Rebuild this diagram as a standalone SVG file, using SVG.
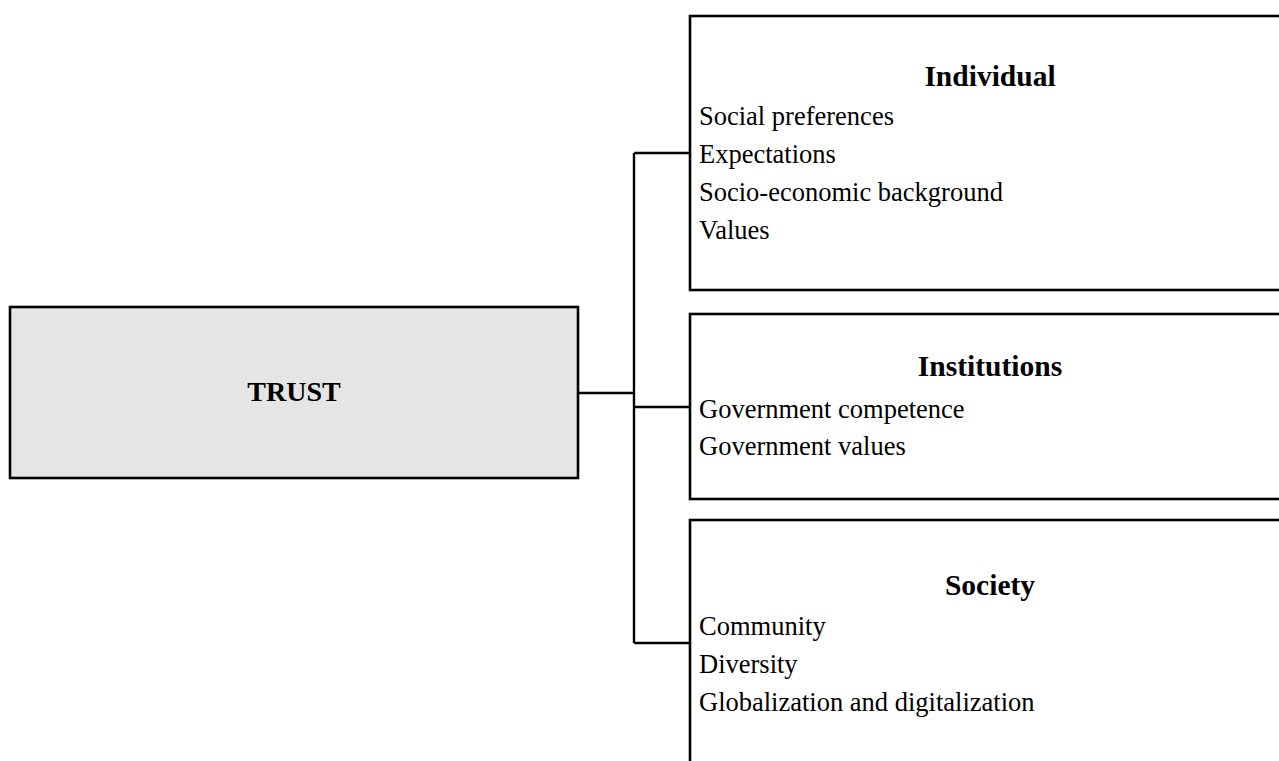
<svg xmlns="http://www.w3.org/2000/svg" width="1279" height="761" viewBox="0 0 1279 761">
<style>
.box{fill:#ffffff;stroke:#000;stroke-width:2.6}
.main{fill:#e5e5e5;stroke:#000;stroke-width:2.6}
.conn{fill:none;stroke:#000;stroke-width:2.4}
.h{font-family:"Liberation Serif","Times New Roman",serif;font-weight:bold;font-size:29.5px;text-anchor:middle;fill:#000}
.t{font-family:"Liberation Serif","Times New Roman",serif;font-size:26.5px;fill:#000}
</style>
<rect width="1279" height="761" fill="#fff"/>
<g id="connectors">
<path class="conn" d="M578 393 H634 M634 153 V643 M634 153 H690 M634 407 H690 M634 643 H690"/>
</g>
<g id="trust">
<rect class="main" x="10" y="307" width="568" height="171"/>
<text class="h" x="294" y="401" style="font-size:28px">TRUST</text>
</g>
<g id="individual">
<rect class="box" x="690" y="16" width="610" height="274"/>
<text class="h" x="990" y="86">Individual</text>
<text class="t" x="699" y="125">Social preferences</text>
<text class="t" x="699" y="163">Expectations</text>
<text class="t" x="699" y="201">Socio-economic background</text>
<text class="t" x="699" y="239">Values</text>
</g>
<g id="institutions">
<rect class="box" x="690" y="314" width="610" height="185"/>
<text class="h" x="990" y="376">Institutions</text>
<text class="t" x="699" y="418">Government competence</text>
<text class="t" x="699" y="455">Government values</text>
</g>
<g id="society">
<rect class="box" x="690" y="520" width="610" height="260"/>
<text class="h" x="990" y="595">Society</text>
<text class="t" x="699" y="635">Community</text>
<text class="t" x="699" y="673">Diversity</text>
<text class="t" x="699" y="711">Globalization and digitalization</text>
</g>
</svg>
